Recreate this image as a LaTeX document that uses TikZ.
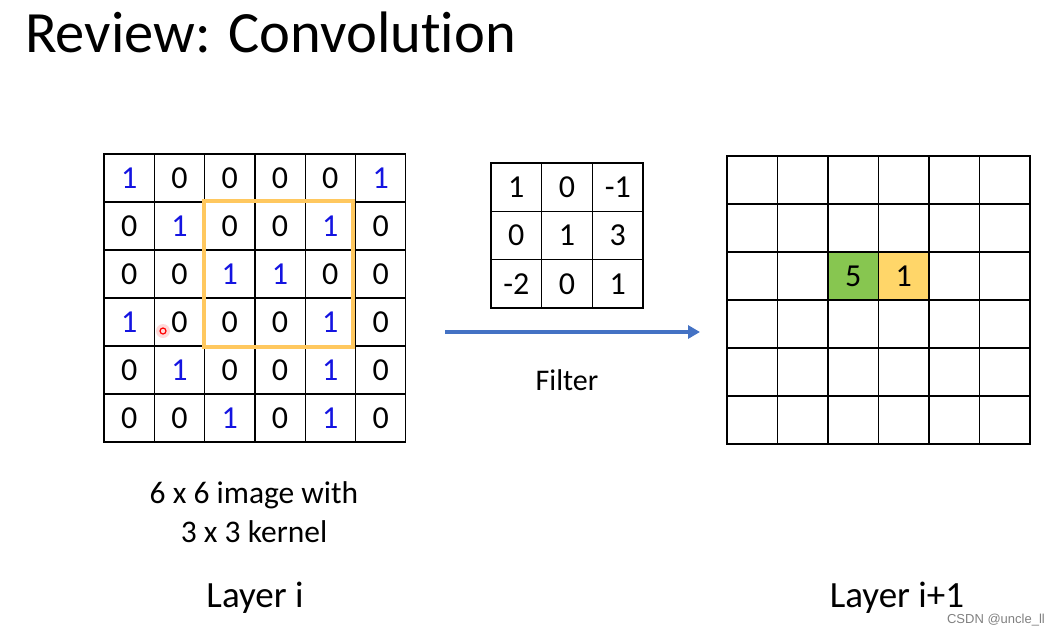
\documentclass[tikz,border=0pt]{standalone}
\usepackage{fontspec}
\setmainfont{Carlito}[Ligatures=NoCommon]
\newfontfamily\wmfont{Liberation Sans}
\usetikzlibrary{positioning,arrows.meta}
\definecolor{onecol}{RGB}{20,20,225}
\definecolor{winyellow}{RGB}{255,200,95}
\definecolor{outgreen}{RGB}{135,198,80}
\definecolor{outyellow}{RGB}{255,214,105}
\definecolor{arrowblue}{RGB}{68,114,196}
\tikzset{
  cell/.style={draw, line width=1.3pt, inner sep=0pt, font=\fontsize{32}{32}\selectfont},
  imgcell/.style={cell, minimum width=50.3pt, minimum height=48pt},
  filtcell/.style={cell, minimum width=50.7pt, minimum height=48.3pt},
  outcell/.style={cell, minimum width=50.5pt, minimum height=48pt},
  winbox/.style={draw=winyellow, line width=4.5pt},
  flow/.style={draw=arrowblue, line width=3.6pt, -{Triangle[length=12pt,width=13pt]}},
  caption/.style={font=\fontsize{31.5}{39}\selectfont, align=center},
  layer/.style={font=\fontsize{37}{37}\selectfont}
}
\begin{document}
\begin{tikzpicture}[x=1pt,y=-1pt]
\useasboundingbox (0,0) rectangle (1056,635);
\node[anchor=base west, font=\fontsize{58.5}{58.5}\selectfont, inner sep=0pt] (title) at (25,52) {Review: Convolution};
\foreach \row [count=\r] in {{1,0,0,0,0,1},{0,1,0,0,1,0},{0,0,1,1,0,0},{1,0,0,0,1,0},{0,1,0,0,1,0},{0,0,1,0,1,0}}
  \foreach \v [count=\c] in \row
    \node[imgcell] (L-\r-\c) at ({104+50.3*(\c-0.5)},{154+48*(\r-0.5)}) {\ifnum\v=1 \color{onecol}\fi\v};
\draw[winbox] (204,201) rectangle (353,347);
\foreach \row [count=\r] in {{1,0,-1},{0,1,3},{-2,0,1}}
  \foreach \v [count=\c] in \row
    \node[filtcell] (F-\r-\c) at ({491+50.7*(\c-0.5)},{163+48.3*(\r-0.5)}) {\v};
\foreach \r in {1,...,6}
  \foreach \c in {1,...,6}
    \node[outcell] (R-\r-\c) at ({727+50.5*(\c-0.5)},{156+48*(\r-0.5)}) {};
\node[outcell, fill=outgreen] at (R-3-3) {5};
\node[outcell, fill=outyellow] at (R-3-4) {1};
\coordinate (arrS) at (445,332);
\coordinate (arrE) at (700,332);
\draw[flow] (arrS) -- (arrE);
\node[anchor=base, font=\fontsize{30}{30}\selectfont, inner sep=0pt] (filt) at (567,390) {Filter};
\node[caption, anchor=base, inner sep=0pt] (cap) at (254,542) {6 x 6 image with\\3 x 3 kernel};
\node[layer, anchor=base, inner sep=0pt] (layA) at (255,607) {Layer i};
\node[layer, anchor=base, inner sep=0pt] (layB) at (897,607) {Layer i+1};
\node[anchor=base east, font=\wmfont\fontsize{13}{13}\selectfont, text=black!50, inner sep=0pt] (mark) at (1045,623) {CSDN @uncle\_ll};
\fill[red!25, opacity=0.6] (163,331) circle (7);
\draw[red, line width=1.2pt] (163,331) circle (3);
\end{tikzpicture}
\end{document}
